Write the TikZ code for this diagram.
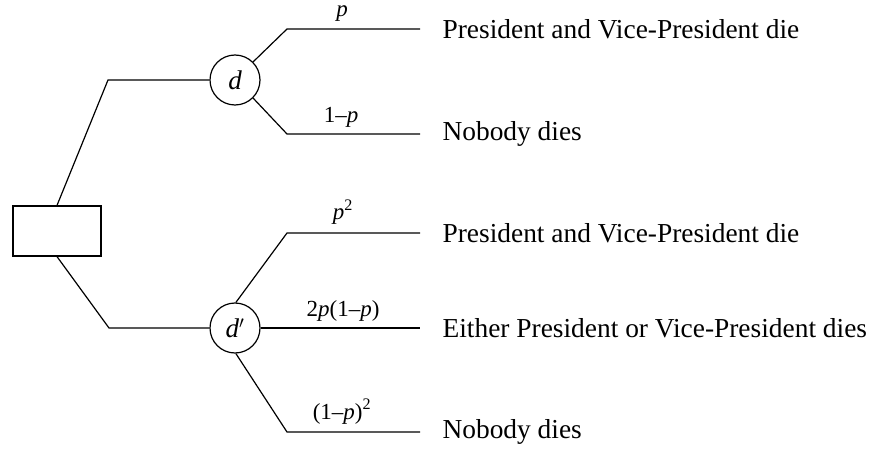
\documentclass[tikz,border=0pt]{standalone}
\usepackage{fontspec}
\setmainfont{Liberation Serif}
\begin{document}
\begin{tikzpicture}[x=1pt,y=-1pt,line width=1.2pt,
  lbl/.style={font=\fontsize{23}{26}\selectfont, anchor=base, inner sep=0pt},
  outc/.style={font=\fontsize{27.4}{30}\selectfont, anchor=west, inner sep=0pt},
  chance/.style={draw, circle, minimum size=50pt, inner sep=0pt, font=\fontsize{27}{28}\selectfont\itshape},
  dec/.style={draw, rectangle, minimum width=88pt, minimum height=50pt, inner sep=0pt}]
\useasboundingbox (0,0) rectangle (870,449);
\node[dec] (box) at (57,231) {};
\node[chance] (d) at (235,80) {d};
\node[chance] (d2) at (235,328) {d$'$};
\coordinate (a1) at (108,80);
\coordinate (a2) at (109,328);
\draw (box.north) -- (a1) -- (d.west);
\draw (box.south) -- (a2) -- (d2.west);
% top branches
\coordinate (t1) at (287,29); \coordinate (t1e) at (420,29);
\coordinate (t2) at (287,134); \coordinate (t2e) at (420,134);
\draw (d.45) -- (t1) -- (t1e);
\draw (d.-45) -- (t2) -- (t2e);
% bottom branches
\coordinate (b1) at (287,233); \coordinate (b1e) at (420,233);
\coordinate (b2e) at (420,328);
\coordinate (b3) at (287,432); \coordinate (b3e) at (420,432);
\draw (d2.88) -- (b1) -- (b1e);
\draw (d2.east) -- (b2e);
\draw (d2.-88) -- (b3) -- (b3e);
% probability labels
\node[lbl] (l1) at (342,17) {\textit{p}};
\node[lbl] (l2) at (341,123) {1\textendash\textit{p}};
\node[lbl] (l3) at (343,220) {\textit{p}\textsuperscript{2}};
\node[lbl] (l4) at (343,316) {2\textit{p}(1\textendash\textit{p})};
\node[lbl] (l5) at (342,419) {(1\textendash\textit{p})\textsuperscript{2}};
% outcomes
\node[outc] (o1) at (442,29) {President and Vice-President die};
\node[outc] (o2) at (442,134) {Nobody dies};
\node[outc] (o3) at (442,233) {President and Vice-President die};
\node[outc] (o4) at (442,328) {Either President or Vice-President dies};
\node[outc] (o5) at (442,432) {Nobody dies};
\end{tikzpicture}
\end{document}
